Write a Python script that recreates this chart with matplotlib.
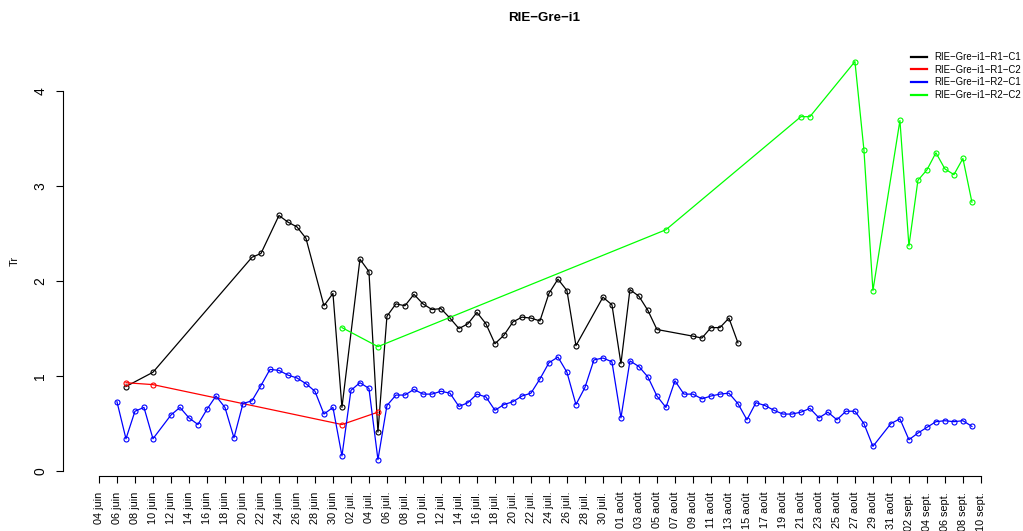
import matplotlib
matplotlib.use("Agg")
import matplotlib.pyplot as plt
import matplotlib.dates as mdates
from matplotlib.lines import Line2D
import pandas as pd

plt.rcParams["font.family"] = ["Liberation Sans", "DejaVu Sans"]

# données (année arbitraire)
annee = "2013"
titre = "RIE\u2212Gre\u2212i1"
noms = ["RIE\u2212Gre\u2212i1\u2212R1\u2212C1", "RIE\u2212Gre\u2212i1\u2212R1\u2212C2",
        "RIE\u2212Gre\u2212i1\u2212R2\u2212C1", "RIE\u2212Gre\u2212i1\u2212R2\u2212C2"]
couleurs = ["black", "#FF0000", "#0000FF", "#00FF00"]

r1c1_dates = ["06-07", "06-10", "06-21", "06-22", "06-24", "06-25", "06-26", "06-27",
              "06-29", "06-30", "07-01", "07-03", "07-04", "07-05",
              "07-06", "07-07", "07-08", "07-09", "07-10", "07-11", "07-12", "07-13",
              "07-14", "07-15", "07-16", "07-17", "07-18", "07-19", "07-20", "07-21",
              "07-22", "07-23", "07-24", "07-25", "07-26", "07-27",
              "07-30", "07-31", "08-01", "08-02", "08-03", "08-04", "08-05",
              "08-09", "08-10", "08-11", "08-12", "08-13", "08-14"]
r1c1 = [0.89, 1.04, 2.25, 2.29, 2.69, 2.62, 2.57, 2.45, 1.74, 1.87, 0.67, 2.23, 2.10, 0.41,
        1.63, 1.76, 1.74, 1.86, 1.76, 1.70, 1.71, 1.61, 1.50, 1.55, 1.67, 1.55, 1.34, 1.43,
        1.57, 1.62, 1.61, 1.58, 1.87, 2.02, 1.90, 1.32,
        1.83, 1.75, 1.13, 1.91, 1.84, 1.69, 1.49,
        1.42, 1.40, 1.51, 1.51, 1.61, 1.35]

r1c2_dates = ["06-07", "06-10", "07-01", "07-05"]
r1c2 = [0.93, 0.91, 0.49, 0.62]

# R2-C1 : tous les jours du 06/06 au 09/09 sauf 11/06 et 30/08
r2c1_debut, r2c1_fin = "06-06", "09-09"
r2c1_manquants = ["06-11", "08-30"]
r2c1 = [0.73, 0.34, 0.63, 0.67, 0.34,
        0.59, 0.67, 0.56, 0.49, 0.65, 0.79, 0.67, 0.35, 0.71, 0.74, 0.90, 1.07, 1.06,
        1.01, 0.98, 0.92, 0.84, 0.60, 0.67, 0.16, 0.85, 0.93, 0.87, 0.12, 0.69, 0.80,
        0.80, 0.86, 0.81, 0.81, 0.84, 0.82, 0.68, 0.72, 0.81, 0.78, 0.64, 0.70, 0.73,
        0.79, 0.82, 0.97, 1.14, 1.20, 1.04, 0.70, 0.88, 1.17, 1.19, 1.15, 0.56, 1.16,
        1.10, 0.99, 0.79, 0.67, 0.95, 0.81, 0.81, 0.76, 0.79, 0.81, 0.82, 0.71, 0.54,
        0.72, 0.69, 0.64, 0.60, 0.60, 0.62, 0.66, 0.56, 0.62, 0.54, 0.63, 0.63, 0.50,
        0.26,
        0.50, 0.55, 0.33, 0.40, 0.46, 0.52, 0.53, 0.52, 0.53, 0.47]

r2c2_dates = ["07-01", "07-05", "08-06", "08-21", "08-22", "08-27", "08-28", "08-29",
              "09-01", "09-02", "09-03", "09-04", "09-05", "09-06", "09-07", "09-08", "09-09"]
r2c2 = [1.51, 1.31, 2.54, 3.73, 3.73, 4.31, 3.38, 1.90,
        3.69, 2.37, 3.06, 3.17, 3.35, 3.18, 3.12, 3.29, 2.83]

mois = {6: "juin", 7: "juil.", 8: "août", 9: "sept."}


def to_dates(lst):
    return pd.to_datetime([annee + "-" + s for s in lst])


d_r2c1 = pd.date_range(annee + "-" + r2c1_debut, annee + "-" + r2c1_fin)
d_r2c1 = d_r2c1.drop(to_dates(r2c1_manquants))

series = [(to_dates(r1c1_dates), r1c1), (to_dates(r1c2_dates), r1c2),
          (d_r2c1, r2c1), (to_dates(r2c2_dates), r2c2)]

fig = plt.figure(figsize=(10.23, 5.31), dpi=100)
ax = fig.add_axes([0.0809, 0.1039, 0.9026, 0.8106])

for (x, y), c in zip(series, couleurs):
    ax.plot(x, y, color=c, lw=0.9, marker="o", ms=3.6, mfc="none", mew=0.8)

ticks = pd.date_range(annee + "-06-04", annee + "-09-10", freq="2D")
ax.set_xticks(ticks)
ax.set_xticklabels([f"{t.day:02d} {mois[t.month]}" for t in ticks], fontsize=7.8)
t0 = mdates.date2num(ticks[0])
ax.set_xlim(t0 - 1.8, t0 + 100.8)
ax.set_ylim(-0.05, 4.48)
ax.set_yticks([0, 1, 2, 3, 4])
ax.set_yticklabels(["0", "1", "2", "3", "4"], fontsize=7.8)

for s in ["top", "right"]:
    ax.spines[s].set_visible(False)
ax.spines["left"].set_bounds(0, 4)
ax.spines["left"].set_position(("outward", 14))
ax.spines["bottom"].set_bounds(mdates.date2num(ticks[0]), mdates.date2num(ticks[-1]))
for s in ["left", "bottom"]:
    ax.spines[s].set_linewidth(0.8)
ax.tick_params(axis="both", length=5, width=0.8, pad=6.5, labelrotation=90)
for lab in ax.get_yticklabels():
    lab.set_va("center")

ax.set_ylabel("Tr", fontsize=7.8)
ax.yaxis.set_label_coords(-0.068, 0.5)
ax.set_title(titre, fontweight="bold", fontsize=9.6, pad=17.8)

handles = [Line2D([], [], color=c, lw=1.6) for c in couleurs]
fig.legend(handles, noms, loc="upper left", bbox_to_anchor=(0.8856, 0.911),
           frameon=False, fontsize=6.9, borderpad=0, handlelength=1.65,
           handletextpad=0.8, labelspacing=0.28)

fig.savefig("out.png", dpi=100)
